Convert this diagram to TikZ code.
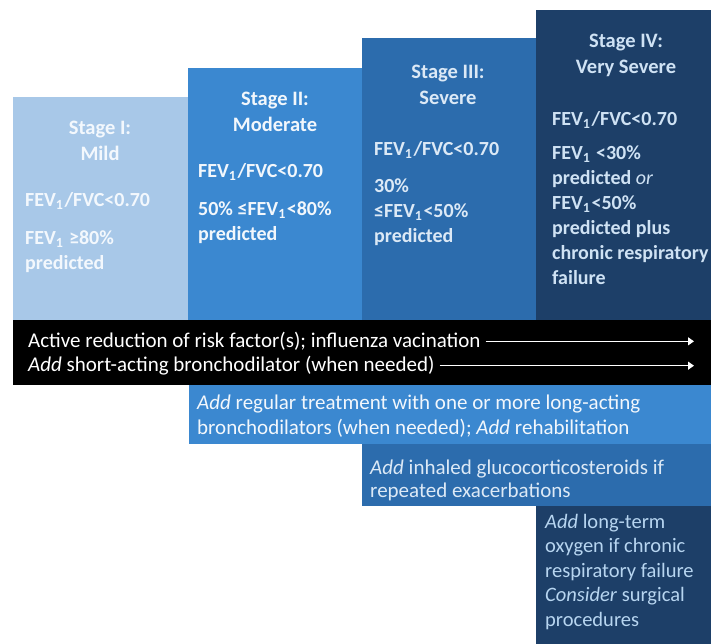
\documentclass[tikz,border=0pt]{standalone}
\usepackage{fontspec}
\setmainfont{Carlito}
\usepackage{xcolor}
\usetikzlibrary{positioning,arrows.meta}
\definecolor{stageone}{HTML}{A8C8E8}
\definecolor{stagetwo}{HTML}{3B88D0}
\definecolor{stagethree}{HTML}{2C6CAD}
\definecolor{stagefour}{HTML}{1D3F68}
\definecolor{textone}{HTML}{F3F8FD}
\definecolor{texttwo}{HTML}{F2F7FC}
\definecolor{textthree}{HTML}{DCE9F6}
\definecolor{textfour}{HTML}{CFE2F4}
\definecolor{textlong}{HTML}{B7D5F0}
\newcommand{\fev}{FEV\textsubscript{1}\kern1pt}
\tikzset{
  panel/.style={anchor=north west, inner sep=0pt, outer sep=0pt},
  stagetitle/.style={align=center, inner sep=0pt, font=\bfseries\fontsize{20.5}{26}\selectfont},
  stagebody/.style={anchor=north west, align=left, inner sep=0pt, font=\bfseries\fontsize{20}{25}\selectfont},
  treat/.style={anchor=north west, align=left, inner sep=0pt, font=\fontsize{21}{25}\selectfont},
  arrowline/.style={-{Triangle[length=6pt,width=8pt]}, white, line width=1.2pt}
}
\begin{document}
\begin{tikzpicture}[x=1pt,y=-1pt]
\useasboundingbox (0,0) rectangle (715,644);
\fill[white] (0,0) rectangle (715,644);
\node[panel, fill=stageone, minimum width=175pt, minimum height=223pt] (mild) at (13,97) {};
\node[panel, fill=stagetwo, minimum width=174pt, minimum height=252pt] (moderate) at (188,68) {};
\node[panel, fill=stagethree, minimum width=174pt, minimum height=282pt] (severe) at (362,38) {};
\node[panel, fill=stagefour, minimum width=175pt, minimum height=310pt] (verysevere) at (536,10) {};
\node[panel, fill=black, minimum width=698pt, minimum height=65pt] (band) at (13,320) {};
\node[panel, fill=stagetwo, minimum width=522pt, minimum height=59pt] (regular) at (189,385) {};
\node[panel, fill=stagethree, minimum width=349pt, minimum height=62pt] (inhaled) at (362,444) {};
\node[panel, fill=stagefour, minimum width=175pt, minimum height=138pt] (oxygen) at (536,506) {};

\node[stagetitle, text=textone] (mildtitle) at (100,141) {Stage I:\\Mild};
\node[stagebody, text=textone] (mildtext) at (25,192) {\fev/FVC<0.70\\[13pt]\fev{} ≥80\%\\predicted};
\node[stagetitle, text=texttwo] (moderatetitle) at (275,112) {Stage II:\\Moderate};
\node[stagebody, text=texttwo] (moderatetext) at (198,163) {\fev/FVC<0.70\\[13pt]50\% ≤\fev<80\%\\predicted};
\node[stagetitle, text=textthree] (severetitle) at (448,85) {Stage III:\\Severe};
\node[stagebody, text=textthree] (severetext) at (374,141) {\fev/FVC<0.70\\[12pt]30\%\\≤\fev<50\%\\predicted};
\node[stagetitle, text=textfour] (veryseveretitle) at (626,55) {Stage IV:\\Very Severe};
\node[stagebody, text=textfour] (veryseveretext) at (552,111) {\fev/FVC<0.70\\[9pt]\fev{} <30\%\\predicted \textmd{\itshape or}\\\fev<50\%\\predicted plus\\chronic respiratory\\failure};

\node[treat, text=white] (risk) at (28,332) {Active reduction of risk factor(s); influenza vacination};
\node[treat, text=white] (shortacting) at (28,356) {\textit{Add} short-acting bronchodilator (when needed)};
\coordinate (arrowend) at (694,0);
\draw[arrowline] ([xshift=5pt]risk.east) -- (risk.east -| arrowend);
\draw[arrowline] ([xshift=5pt]shortacting.east) -- (shortacting.east -| arrowend);

\node[treat, text=texttwo] (regulartext) at (197,395) {\textit{Add} regular treatment with one or more long-acting\\bronchodilators (when needed); \textit{Add} rehabilitation};
\node[treat, text=textthree, font=\fontsize{21}{23}\selectfont] (inhaledtext) at (370,460) {\textit{Add} inhaled glucocorticosteroids if\\repeated exacerbations};
\node[treat, text=textlong, font=\fontsize{20.5}{24.5}\selectfont] (oxygentext) at (545,514) {\textit{Add} long-term\\oxygen if chronic\\respiratory failure\\\textit{Consider} surgical\\procedures};
\end{tikzpicture}
\end{document}
